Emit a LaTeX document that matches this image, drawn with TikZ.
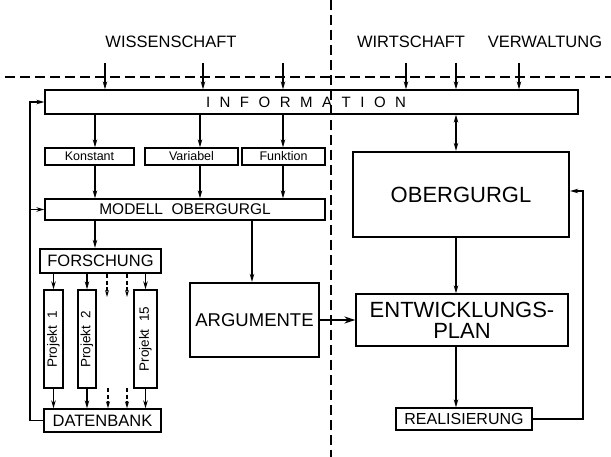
\documentclass[tikz,border=0pt]{standalone}
\usepackage{fontspec}
\setmainfont{Liberation Sans}
\usetikzlibrary{arrows.meta}
\newcommand{\lsp}{\hspace{9.5pt}}
\begin{document}
\begin{tikzpicture}[x=1pt,y=-1pt,
  box/.style={draw,line width=1.3pt,inner sep=0pt,align=center},
  thickbox/.style={draw,line width=2.3pt,inner sep=0pt,align=center},
  arr/.style={line width=1.1pt,-{Stealth[length=8pt,width=4.5pt]}},
  dblarr/.style={line width=1.1pt,{Stealth[length=8pt,width=4.5pt]}-{Stealth[length=8pt,width=4.5pt]}},
  darr/.style={line width=1.1pt,dash pattern=on 4pt off 2.5pt,-{Stealth[length=7pt,width=4pt]}},
  bigarr/.style={line width=2.4pt,-{Stealth[length=11pt,width=7pt]}},
  dsh/.style={line width=1.2pt,dash pattern=on 10pt off 5pt},
  lbl/.style={font=\fontsize{16.5}{18}\selectfont},
  small/.style={font=\fontsize{12.5}{14}\selectfont},
]
\useasboundingbox (0,0) rectangle (611,457);

% separators
\coordinate (hl) at (5,77);
\coordinate (hr) at (611,77);
\coordinate (vt) at (331,0);
\coordinate (vb) at (331,457);
\draw[dsh] (hl) -- (hr);
\draw[dsh] (vt) -- (vb);

% headings
\node[lbl] (wiss) at (171,42) {WISSENSCHAFT};
\node[lbl] (wirt) at (411,42) {WIRTSCHAFT};
\node[lbl] (verw) at (545,42) {VERWALTUNG};

% boxes
\node[box,minimum width=533,minimum height=24,font=\fontsize{15}{16}\selectfont] (info) at (311.5,102)
  {\hspace{-11pt}I\lsp N\lsp F\lsp O\lsp R\lsp M\lsp A\lsp T\lsp I\lsp O\lsp N};
\node[box,small,minimum width=89,minimum height=17] (konst) at (89.5,156.5) {Konstant};
\node[box,small,minimum width=93,minimum height=17] (var) at (191.5,156.5) {Variabel};
\node[box,small,minimum width=83,minimum height=17] (funk) at (283.5,156.5) {Funktion};
\node[box,minimum width=280,minimum height=21,font=\fontsize{15.5}{17}\selectfont] (modell) at (185,209.5) {MODELL\ \ OBERGURGL};
\node[thickbox,lbl,minimum width=121,minimum height=24] (forsch) at (100.5,261) {FORSCHUNG};
\node[box,minimum width=19,minimum height=98,font=\fontsize{13.5}{15}\selectfont] (p1) at (53.5,339) {\rotatebox{90}{Projekt\ \ 1}};
\node[box,minimum width=18,minimum height=98,font=\fontsize{13.5}{15}\selectfont] (p2) at (87,339) {\rotatebox{90}{Projekt\ \ 2}};
\node[box,minimum width=23,minimum height=98,font=\fontsize{13.5}{15}\selectfont] (p15) at (145.5,339) {\rotatebox{90}{Projekt\ \ 15}};
\node[box,lbl,minimum width=117,minimum height=23] (dat) at (102.5,420.5) {DATENBANK};
\node[thickbox,minimum width=129,minimum height=74,font=\fontsize{18.5}{20}\selectfont] (arg) at (254.5,320) {ARGUMENTE};
\node[thickbox,minimum width=216,minimum height=85,font=\fontsize{22}{24}\selectfont] (ober) at (461,194.5) {OBERGURGL};
\node[box,minimum width=212,minimum height=52,font=\fontsize{22}{21}\selectfont] (entw) at (462,320) {ENTWICKLUNGS-\\PLAN};
\node[box,minimum width=136,minimum height=22,font=\fontsize{16}{18}\selectfont] (real) at (464,419) {REALISIERUNG};

% top inputs
\foreach \n/\x in {t1/105,t2/203,t3/283,t4/406,t5/456,t6/519}{
  \coordinate (\n) at (\x,63);
  \draw[arr] (\n) -- (\n |- info.north);
}

% columns
\coordinate (c1) at (95,0);
\coordinate (c2) at (200,0);
\coordinate (c3) at (283,0);
\coordinate (c4) at (252,0);
\coordinate (c5) at (456,0);

\draw[arr] (c1 |- info.south) -- (c1 |- konst.north);
\draw[arr] (c2 |- info.south) -- (c2 |- var.north);
\draw[arr] (c3 |- info.south) -- (c3 |- funk.north);
\draw[arr] (c1 |- konst.south) -- (c1 |- modell.north);
\draw[arr] (c2 |- var.south) -- (c2 |- modell.north);
\draw[arr] (c3 |- funk.south) -- (c3 |- modell.north);
\draw[arr] (c1 |- modell.south) -- (c1 |- forsch.north);
\draw[arr] (c4 |- modell.south) -- (c4 |- arg.north);

% projects
\draw[arr] (p1.north |- forsch.south) -- (p1.north);
\draw[arr] (p2.north |- forsch.south) -- (p2.north);
\draw[arr] (p15.north |- forsch.south) -- (p15.north);
\draw[arr] (p1.south) -- (p1.south |- dat.north);
\draw[arr] (p2.south) -- (p2.south |- dat.north);
\draw[arr] (p15.south) -- (p15.south |- dat.north);
\coordinate (e1) at (107,297);
\coordinate (e2) at (127,297);
\coordinate (f1) at (108,388);
\coordinate (f2) at (127,388);
\draw[darr] (e1 |- forsch.south) -- (e1);
\draw[darr] (e2 |- forsch.south) -- (e2);
\draw[darr] (f1) -- (f1 |- dat.north);
\draw[darr] (f2) -- (f2 |- dat.north);

% left feedback
\coordinate (fb) at (30,0);
\draw[arr] (dat.west) -| (fb |- info.west) -- (info.west);
\draw[arr] (fb |- modell.west) -- (modell.west);

% right side
\draw[bigarr] (arg.east) -- (entw.west);
\draw[dblarr] (c5 |- info.south) -- (c5 |- ober.north);
\draw[arr] (c5 |- ober.south) -- (c5 |- entw.north);
\draw[arr] (c5 |- entw.south) -- (c5 |- real.north);
\coordinate (fr) at (583,191);
\draw[arr] (real.east) -| (fr) -- (fr -| ober.east);
\end{tikzpicture}
\end{document}
